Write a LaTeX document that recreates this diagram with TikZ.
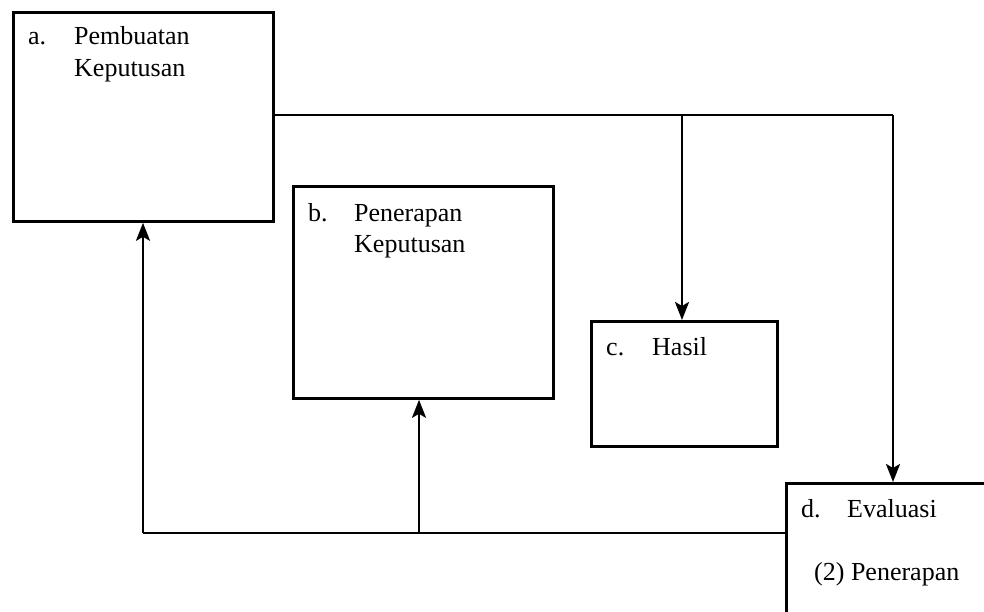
\documentclass[tikz,border=0pt]{standalone}
\usepackage{fontspec}
\setmainfont{Liberation Serif}
\newfontfamily\timesfont{Liberation Serif}
\usetikzlibrary{arrows.meta}
\begin{document}
\begin{tikzpicture}[x=1pt,y=-1pt,
  box/.style={draw,line width=2.8pt,rectangle,inner sep=0pt,anchor=north west},
  lbl/.style={anchor=base west,inner sep=0pt,font=\timesfont\fontsize{26}{31}\selectfont},
  conn/.style={line width=2.5pt},
  arr/.style={conn,-{Stealth[length=18pt,width=14pt,inset=4pt]}}]
\path[use as bounding box] (0,0) rectangle (984,612);
\clip (0,0) rectangle (984,612);
% boxes
\node[box,minimum width=260pt,minimum height=209pt] (a) at (12,11) {};
\node[box,minimum width=260pt,minimum height=212pt] (b) at (292,185) {};
\node[box,minimum width=186pt,minimum height=125pt] (c) at (590,320) {};
\node[box,minimum width=240pt,minimum height=180pt] (d) at (785,482) {};
% texts
\node[lbl] (ta1) at (28,45) {a.};
\node[lbl] (ta2) at (74,45) {Pembuatan};
\node[lbl] (ta3) at (74,77) {Keputusan};
\node[lbl] (tb1) at (308,222) {b.};
\node[lbl] (tb2) at (354,222) {Penerapan};
\node[lbl] (tb3) at (354,252) {Keputusan};
\node[lbl] (tc1) at (606,355) {c.};
\node[lbl] (tc2) at (652,355) {Hasil};
\node[lbl] (td1) at (801,517) {d.};
\node[lbl] (td2) at (847,517) {Evaluasi};
\node[lbl] (td3) at (814,580) {(2) Penerapan};
% junctions
\coordinate (j1) at (893,115);
\coordinate (j2) at (682,115);
\coordinate (j3) at (785,533);
\coordinate (j4) at (143,533);
\coordinate (j5) at (419,533);
% connectors
\draw[conn] (a.east |- j1) -- (j1);
\draw[arr] (j1) -- (d.north -| j1);
\draw[arr] (j2) -- (c.north -| j2);
\draw[conn] (j3) -- (j4);
\draw[arr] (j4) -- (a.south -| j4);
\draw[arr] (j5) -- (b.south -| j5);
\end{tikzpicture}
\end{document}
